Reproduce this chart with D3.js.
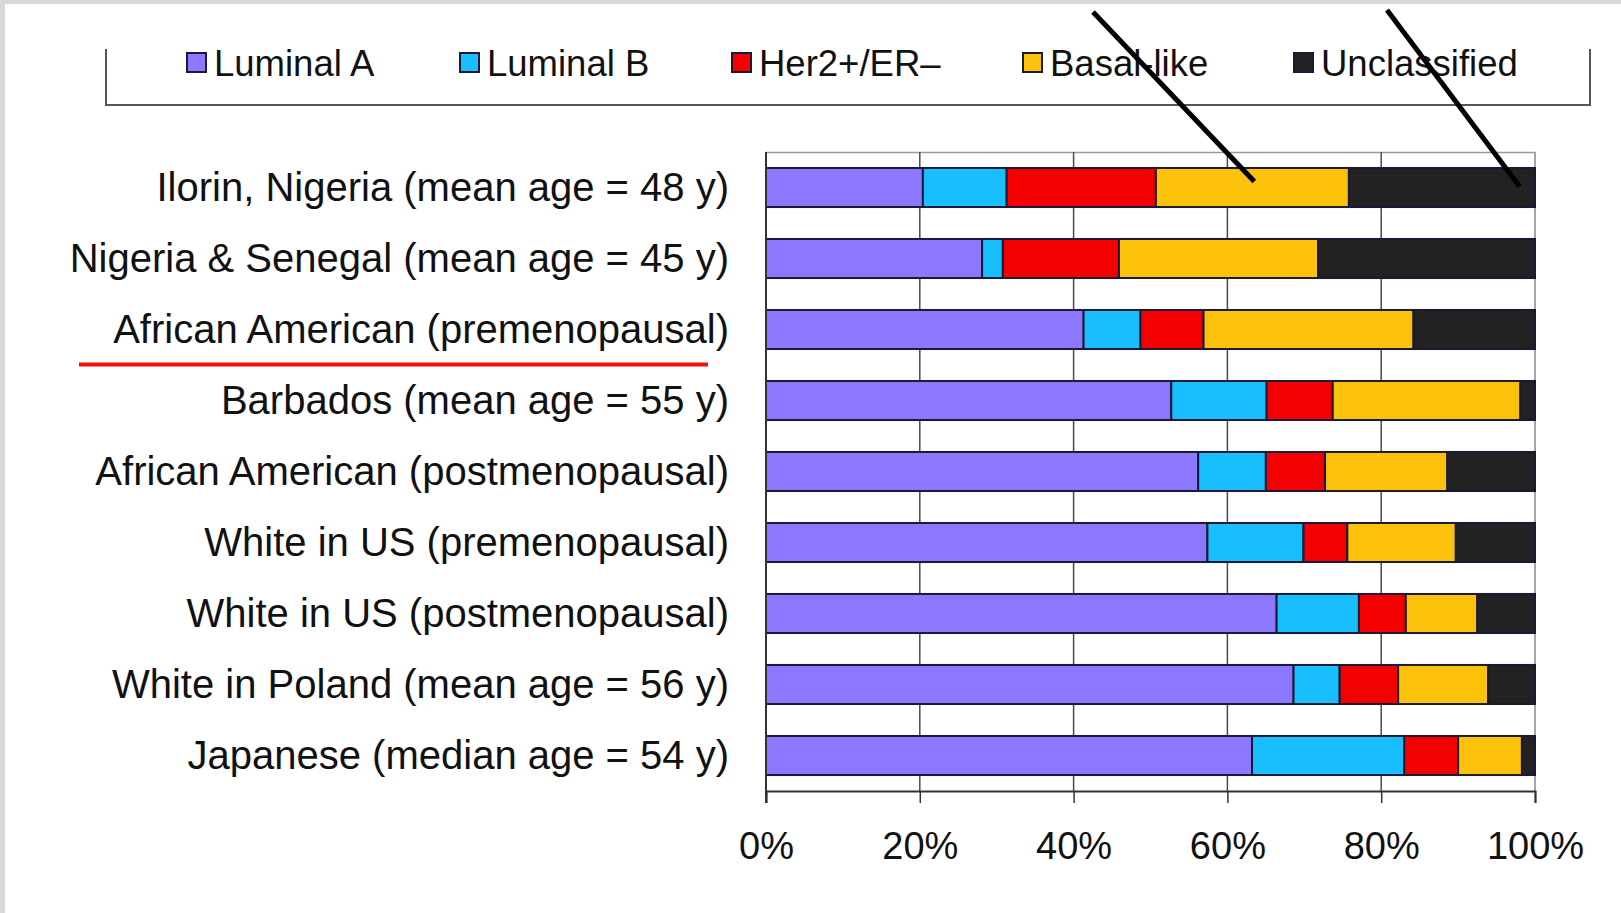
<!DOCTYPE html>
<html>
<head>
<meta charset="utf-8">
<script src="https://cdn.jsdelivr.net/npm/d3@7"></script>
<style>
  body { margin: 0; background: #fff; }
  svg { display: block; font-family: Arial, "Liberation Sans", sans-serif; }
</style>
</head>
<body>
<svg id="chart"></svg>
<script>
const W = 1621, H = 913;

const categories = [
  'Ilorin, Nigeria (mean age = 48 y)',
  'Nigeria & Senegal (mean age = 45 y)',
  'African American (premenopausal)',
  'Barbados (mean age = 55 y)',
  'African American (postmenopausal)',
  'White in US (premenopausal)',
  'White in US (postmenopausal)',
  'White in Poland (mean age = 56 y)',
  'Japanese (median age = 54 y)'
];
const subtypes = ['Luminal A', 'Luminal B', 'Her2+/ER\u2013', 'Basal-like', 'Unclassified'];
const colors = ['#8c78ff', '#19beff', '#f50000', '#fcc10a', '#222222'];

// percent per subtype, same order as categories
const luminalA     = [20.4, 28.1, 41.3, 52.7, 56.2, 57.4, 66.4, 68.6, 63.2];
const luminalB     = [10.9,  2.7,  7.4, 12.4,  8.8, 12.5, 10.7,  6.0, 19.8];
const her2         = [19.4, 15.1,  8.2,  8.6,  7.7,  5.7,  6.1,  7.6,  7.0];
const basalLike    = [25.1, 25.9, 27.3, 24.4, 15.9, 14.1,  9.3, 11.7,  8.3];
const unclassified = [24.2, 28.2, 15.8,  1.9, 11.4, 10.3,  7.5,  6.1,  1.7];
const xTicks = [0, 20, 40, 60, 80, 100];

const series = [luminalA, luminalB, her2, basalLike, unclassified];
const rows = categories.map((c, i) => {
  const r = {category: c};
  subtypes.forEach((s, k) => { r[s] = series[k][i]; });
  return r;
});

const svg = d3.select('#chart').attr('width', W).attr('height', H);

// page frame
svg.append('rect').attr('width', W).attr('height', H).attr('fill', '#fff');
svg.append('rect').attr('width', W).attr('height', 4).attr('fill', '#d8d8d8');
svg.append('rect').attr('width', 5).attr('height', H).attr('fill', '#d8d8d8');

const x = d3.scaleLinear().domain([0, 100]).range([766, 1535]);
const y = d3.scaleBand().domain(categories).range([152, 791])
  .paddingInner(0.45).paddingOuter(0.225);

// plot frame + grid
svg.append('line')
  .attr('x1', x(0)).attr('x2', x(100)).attr('y1', 152.5).attr('y2', 152.5)
  .attr('stroke', '#9a9a9a').attr('stroke-width', 1.5);

svg.append('g').selectAll('line')
  .data(xTicks.slice(1))
  .join('line')
  .attr('x1', d => x(d)).attr('x2', d => x(d))
  .attr('y1', 152).attr('y2', 791)
  .attr('stroke', d => d === 100 ? '#8a8a8a' : '#4a4a4a')
  .attr('stroke-width', 1.5);

// stacked bars
const stack = d3.stack().keys(subtypes)(rows);

svg.append('g').selectAll('g')
  .data(stack)
  .join('g')
  .attr('fill', (d, i) => colors[i])
  .selectAll('rect')
  .data(d => d)
  .join('rect')
  .attr('x', d => x(d[0]))
  .attr('width', d => x(d[1]) - x(d[0]))
  .attr('y', d => y(d.data.category))
  .attr('height', y.bandwidth())
  .attr('stroke', '#1a1a35')
  .attr('stroke-width', 2);

// x axis
const xAxis = d3.axisBottom(x)
  .tickValues(xTicks)
  .tickFormat(d => d + '%')
  .tickSize(12)
  .tickPadding(29);

const gx = svg.append('g')
  .attr('transform', 'translate(0,791)')
  .call(xAxis);
gx.select('.domain').attr('stroke', '#333').attr('stroke-width', 2);
gx.selectAll('.tick line').attr('stroke', '#333').attr('stroke-width', 1.5);
gx.selectAll('.tick text')
  .attr('font-size', 38)
  .attr('font-family', 'Arial, "Liberation Sans", sans-serif')
  .attr('fill', '#111');

// y axis line
svg.append('line')
  .attr('x1', x(0)).attr('x2', x(0)).attr('y1', 152).attr('y2', 803)
  .attr('stroke', '#333').attr('stroke-width', 2);

// category labels
svg.append('g').selectAll('text')
  .data(categories)
  .join('text')
  .attr('x', 729)
  .attr('y', d => y(d) + y.bandwidth() / 2 + 13)
  .attr('text-anchor', 'end')
  .attr('font-size', 40)
  .attr('fill', '#111')
  .text(d => d);

// red underline below the third label
const hl = categories[2];
svg.append('line')
  .attr('x1', 79).attr('x2', 708)
  .attr('y1', y(hl) + y.bandwidth() / 2 + 35)
  .attr('y2', y(hl) + y.bandwidth() / 2 + 35)
  .attr('stroke', '#f01010').attr('stroke-width', 4);

// legend
const legend = svg.append('g');
legend.append('path')
  .attr('d', 'M106,49V105H1590V49')
  .attr('fill', 'none').attr('stroke', '#555').attr('stroke-width', 2);

const legendX = [187, 460, 732, 1023, 1294];
const item = legend.selectAll('g')
  .data(subtypes)
  .join('g')
  .attr('transform', (d, i) => `translate(${legendX[i]},53)`);
item.append('rect')
  .attr('width', 19).attr('height', 19)
  .attr('fill', (d, i) => colors[i])
  .attr('stroke', '#1a1a35').attr('stroke-width', 2);
item.append('text')
  .attr('x', 27).attr('y', 23)
  .attr('font-size', 36.5)
  .attr('fill', '#111')
  .text(d => d);

// black strike lines over the first bar
const first = categories[0];
const strikes = [
  {x0: 1093, y0: 12, v: 63.5, dy: -6},
  {x0: 1387, y0: 10, v: 98.0, dy: -1}
];
svg.append('g').selectAll('line')
  .data(strikes)
  .join('line')
  .attr('x1', d => d.x0).attr('y1', d => d.y0)
  .attr('x2', d => x(d.v))
  .attr('y2', d => y(first) + y.bandwidth() / 2 + d.dy)
  .attr('stroke', '#000').attr('stroke-width', 5);
</script>
</body>
</html>
